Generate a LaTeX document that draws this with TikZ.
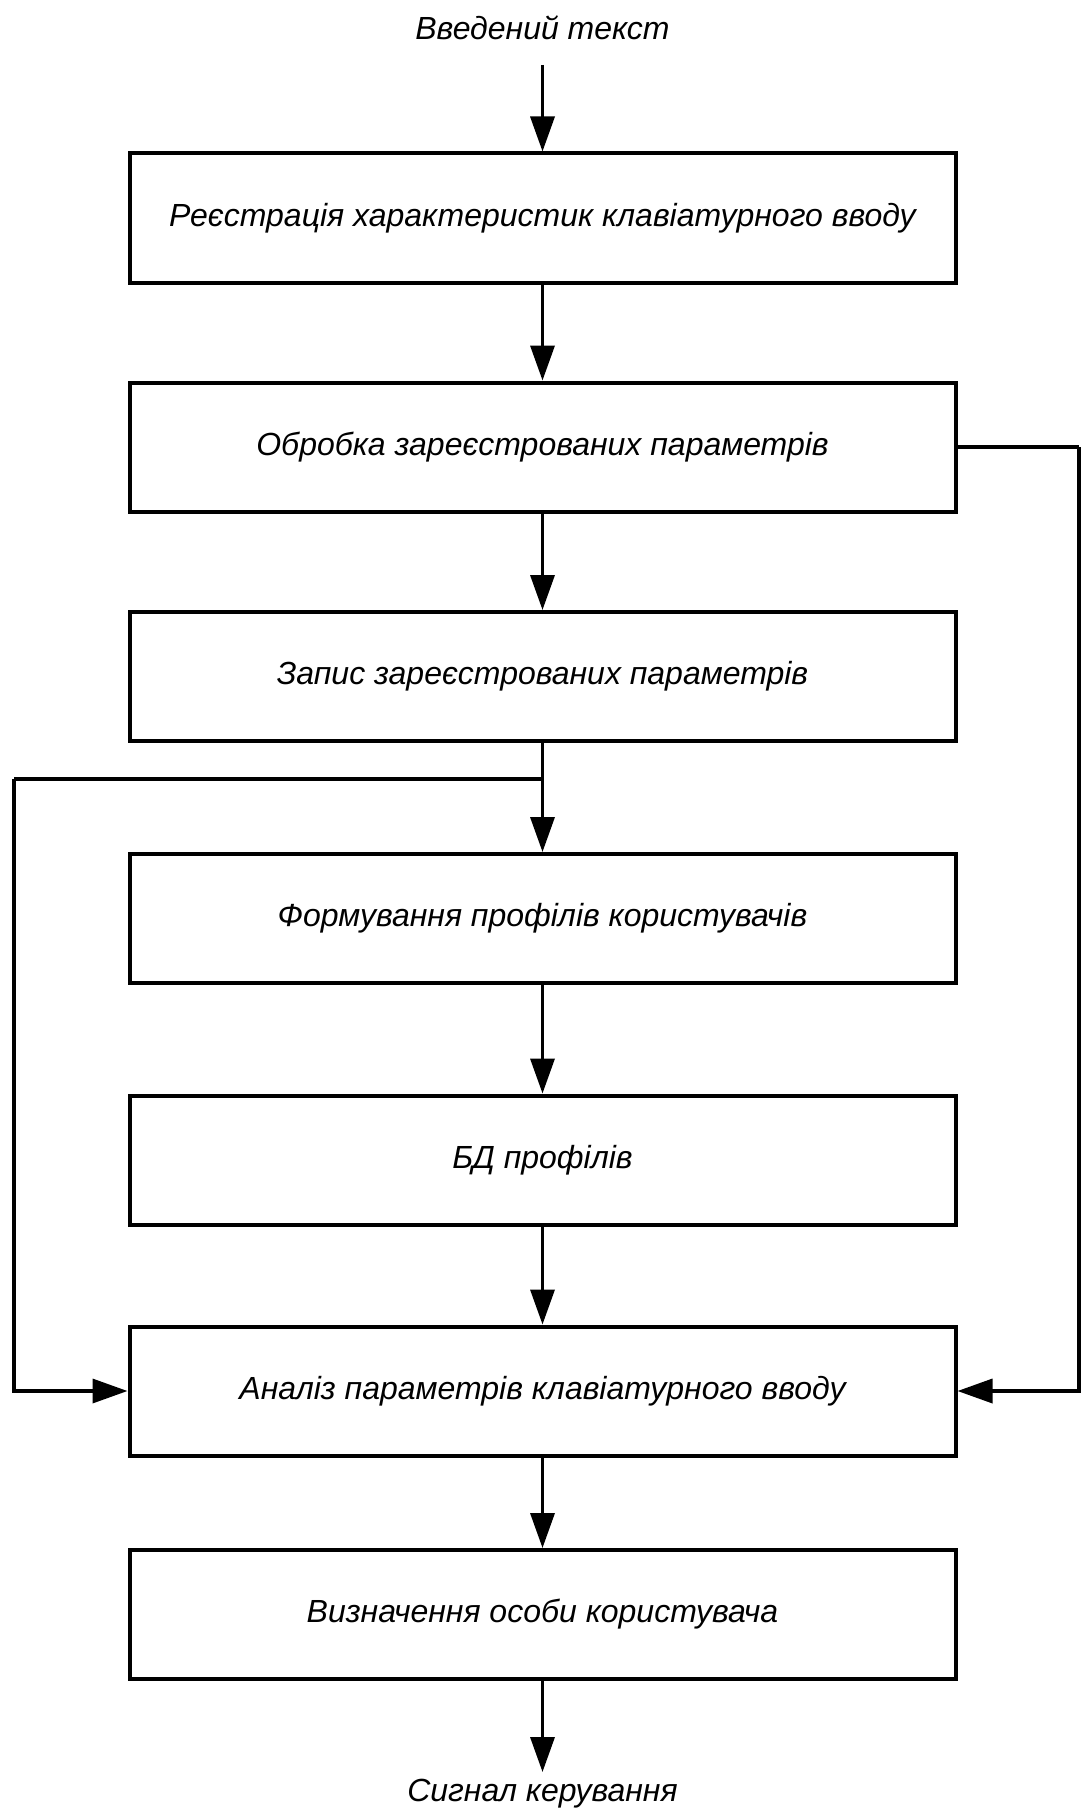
\documentclass[tikz,border=0pt]{standalone}
\usepackage{fontspec}
\setmainfont{Liberation Sans}
\usetikzlibrary{arrows.meta}
\begin{document}
\begin{tikzpicture}[x=1pt,y=-1pt,
  every node/.style={font=\fontsize{32}{38}\selectfont\itshape},
  block/.style={draw, line width=4pt, minimum width=826pt, minimum height=129pt, inner sep=0pt},
  flow/.style={line width=3.5pt, -{Triangle[length=35pt,width=24pt]}},
  wire/.style={line width=3.5pt}]
\useasboundingbox (0,0) rectangle (1081,1814);
\node (in)  at (542.5,28)   {Введений текст};
\node[block] (b1) at (542.5,218)    {Реєстрація характеристик клавіатурного вводу};
\node[block] (b2) at (542.5,447)    {Обробка зареєстрованих параметрів};
\node[block] (b3) at (542.5,676.5)  {Запис зареєстрованих параметрів};
\node[block] (b4) at (542.5,918.5)  {Формування профілів користувачів};
\node[block] (b5) at (542.5,1160)   {БД профілів};
\node[block] (b6) at (542.5,1391)   {Аналіз параметрів клавіатурного вводу};
\node[block] (b7) at (542.5,1614.5) {Визначення особи користувача};
\node (out) at (542.5,1794) {Сигнал керування};
\coordinate (start) at (542.5,65);
\coordinate (split) at (542.5,779);
\coordinate (lft) at (14,779);
\coordinate (rgt) at (1079,447);
\coordinate (tail) at (542.5,1772);
\draw[flow] (start) -- (b1.north);
\draw[flow] (b1) -- (b2);
\draw[flow] (b2) -- (b3);
\draw[flow] (b3) -- (b4);
\draw[flow] (b4) -- (b5);
\draw[flow] (b5) -- (b6);
\draw[flow] (b6) -- (b7);
\draw[flow] (b7.south) -- (tail);
\draw[wire] (split) -- (lft);
\draw[flow] (lft) |- (b6.west);
\draw[wire] (b2.east) -- (rgt);
\draw[flow] (rgt) |- (b6.east);
\end{tikzpicture}
\end{document}
